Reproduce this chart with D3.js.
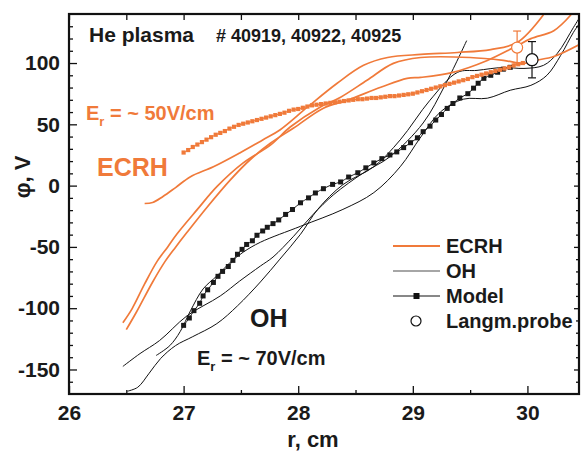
<!DOCTYPE html>
<html>
<head>
<meta charset="utf-8">
<script src="https://cdn.jsdelivr.net/npm/d3@7"></script>
<style>
    body { margin: 0; background: #fff; }
    svg text { font-family: "Liberation Sans", Arial, sans-serif; font-weight: bold; }
</style>
</head>
<body>
<svg id="chart" width="581" height="453"></svg>
<script>
"use strict";

// tick values
const xTicks = [26, 27, 28, 29, 30];
const xMinorTicks = [26.5, 27.5, 28.5, 29.5];
const yTicks = [-150, -100, -50, 0, 50, 100];
const yMinorTicks = [-160, -140, -130, -120, -110, -90, -80, -70, -60, -40, -30, -20, -10,
    10, 20, 30, 40, 60, 70, 80, 90, 110, 120, 130];

// ECRH shots [r, phi]
const ecrhA = [[26.47, -111.8], [26.55, -100.5], [26.66, -80.2], [26.77, -61.6], [26.86, -50.2],
    [26.94, -39.7], [27.12, -19.4], [27.29, -0.8], [27.52, 18.6], [27.76, 33.2], [27.93, 47.8],
    [28.19, 64.0], [28.37, 72.1], [28.60, 85.9], [28.83, 99.7], [29.07, 104.5], [29.50, 104.5],
    [29.79, 102.1], [29.97, 99.7], [30.07, 102.1], [30.23, 105.3], [30.47, 115.9]];
const ecrhB = [[26.50, -117.5], [26.59, -102.9], [26.73, -78.6], [26.84, -61.6], [26.93, -50.2],
    [27.03, -38.1], [27.21, -17.0], [27.41, 4.9], [27.58, 21.1], [27.76, 34.8], [27.96, 47.0],
    [28.22, 63.2], [28.43, 69.7], [28.72, 80.2], [28.95, 87.5], [29.07, 88.3], [29.35, 92.4],
    [29.65, 102.1], [29.88, 112.6], [30.03, 119.9], [30.23, 126.4], [30.38, 139.4]];
const ecrhC = [[26.66, -14.6], [26.73, -13.8], [26.82, -8.9], [26.93, -1.6], [27.06, 7.3],
    [27.26, 15.4], [27.49, 26.7], [27.69, 37.3], [27.84, 45.4], [28.08, 64.0], [28.34, 83.5],
    [28.57, 98.1], [28.78, 104.5], [29.07, 107.0], [29.39, 108.6], [29.68, 111.0], [29.91, 116.7],
    [30.14, 139.4]];

// OH shots [r, phi]
const ohA = [[26.47, -147.5], [26.62, -137.0], [26.79, -126.4], [27.03, -106.2], [27.32, -90.0],
    [27.49, -77.8], [27.67, -65.6], [27.78, -58.3], [27.96, -41.3], [28.13, -23.5], [28.31, -7.3],
    [28.57, 10.5], [28.80, 23.5], [29.09, 51.1], [29.28, 81.8], [29.47, 118.3]];
const ohB = [[26.76, -138.6], [26.88, -130.5], [26.97, -119.1], [27.06, -102.1], [27.17, -84.3],
    [27.29, -73.7], [27.41, -62.4], [27.52, -54.3], [27.67, -46.2], [28.02, -33.2], [28.39, -19.4],
    [28.66, -5.7], [28.89, 15.4], [29.07, 39.7], [29.24, 60.0], [29.44, 70.5], [29.65, 71.3],
    [29.85, 77.8], [30.03, 81.8], [30.17, 90.0], [30.29, 106.2], [30.40, 124.8], [30.47, 134.5]];
const ohC = [[26.51, -167.7], [26.60, -164.5], [26.70, -153.0], [26.80, -141.0], [26.93, -130.5],
    [27.08, -123.2], [27.29, -112.6], [27.47, -98.1], [27.67, -78.6], [27.84, -60.0], [28.02, -39.7],
    [28.17, -19.4], [28.39, 0.8], [28.66, 15.4], [28.89, 37.3], [29.15, 69.7], [29.39, 92.4],
    [29.56, 94.0], [29.79, 96.4], [29.97, 95.6], [30.14, 98.1], [30.26, 107.8], [30.40, 128.8],
    [30.47, 139.4]];

// model curves [r, phi]
const modelEcrh = [[27.00, 27], [27.04, 29], [27.08, 31.5], [27.12, 33.5], [27.16, 35.5], [27.20, 37.5],
    [27.24, 39.5], [27.28, 41.5], [27.32, 43], [27.36, 44.5], [27.40, 46.5], [27.44, 48], [27.48, 49.5],
    [27.52, 50.5], [27.56, 51.5], [27.60, 52.5], [27.64, 53.5], [27.68, 54.5], [27.72, 55.5],
    [27.76, 56.5], [27.80, 57.5], [27.84, 58.5], [27.88, 59.5], [27.92, 61], [27.96, 62], [28.00, 62.5],
    [28.04, 63.5], [28.08, 64.5], [28.12, 65.5], [28.16, 66], [28.20, 66.5], [28.24, 67], [28.28, 67.5],
    [28.32, 68], [28.36, 68.5], [28.40, 69], [28.44, 69.5], [28.48, 70], [28.52, 70.5], [28.56, 70.5],
    [28.60, 71], [28.64, 71.5], [28.68, 71.5], [28.72, 72], [28.76, 72.5], [28.80, 73], [28.84, 73],
    [28.88, 73.5], [28.92, 74], [28.96, 74.5], [29.00, 75], [29.04, 76], [29.08, 77], [29.12, 78],
    [29.16, 79], [29.20, 80], [29.24, 81], [29.28, 82], [29.32, 83], [29.36, 84], [29.40, 85],
    [29.44, 86], [29.48, 87], [29.52, 88.5], [29.56, 89.5], [29.60, 90.5], [29.64, 91.5], [29.68, 92.5],
    [29.72, 93.5], [29.76, 94.5], [29.80, 95.5], [29.84, 96.5], [29.88, 98], [29.92, 99], [29.96, 100]];
const modelOh = [[27.00, -114], [27.05, -108], [27.09, -102], [27.14, -96], [27.17, -90], [27.21, -85],
    [27.26, -79], [27.30, -74], [27.34, -70], [27.39, -66], [27.43, -61], [27.47, -56], [27.51, -52],
    [27.55, -48], [27.60, -45], [27.64, -40.5], [27.69, -37], [27.73, -34], [27.78, -31], [27.83, -28],
    [27.89, -23.5], [27.95, -19.5], [28.02, -14], [28.09, -10], [28.15, -6], [28.22, -2.5], [28.30, 1],
    [28.37, 3], [28.44, 7], [28.52, 10.5], [28.59, 14.5], [28.66, 18.5], [28.73, 22], [28.80, 25],
    [28.86, 27.5], [28.92, 31], [28.98, 35], [29.04, 39], [29.09, 44], [29.15, 48.5], [29.20, 53.5],
    [29.25, 58], [29.30, 63], [29.35, 67], [29.41, 71.5], [29.48, 75], [29.53, 79.5], [29.57, 83.5],
    [29.62, 87.5], [29.68, 90], [29.74, 92.5], [29.79, 95], [29.85, 96.5]];

// Langmuir probe points
const probeR = [29.91, 30.04];
const probePhi = [112.6, 102.7];
const probeErr = [13.5, 14.8];

const orange = "#f07a3a";

(function () {
    const svg = d3.select("#chart");

    const x = d3.scaleLinear().domain([26, 30.45]).range([69, 579]);
    const y = d3.scaleLinear().domain([-170, 140]).range([394, 14]);

    svg.append("clipPath").attr("id", "plot-clip")
        .append("rect")
        .attr("x", 69).attr("y", 14)
        .attr("width", 510).attr("height", 380);

    drawAxes(svg, x, y);

    const plot = svg.append("g").attr("clip-path", "url(#plot-clip)");
    const line = d3.line()
        .x(d => x(d[0]))
        .y(d => y(d[1]))
        .curve(d3.curveCatmullRom);

    // OH shots
    [ohA, ohB, ohC].forEach(s => {
        plot.append("path")
            .attr("d", line(s))
            .attr("fill", "none")
            .attr("stroke", "#111")
            .attr("stroke-width", 1);
    });

    // ECRH shots
    [ecrhA, ecrhB, ecrhC].forEach(s => {
        plot.append("path")
            .attr("d", line(s))
            .attr("fill", "none")
            .attr("stroke", orange)
            .attr("stroke-width", 1.7);
    });

    // model curves with square markers
    addModel(plot, modelOh, "#1a1a1a", 5, x, y, line);
    addModel(plot, modelEcrh, orange, 4.2, x, y, line);

    // probe points with error bars
    const colors = [orange, "#111"];
    const radius = [5.5, 6];
    probeR.forEach((r, i) => {
        const g = plot.append("g")
            .attr("stroke", colors[i])
            .attr("stroke-width", 1.2)
            .attr("fill", "none");
        const cx = x(r);
        g.append("line")
            .attr("x1", cx).attr("x2", cx)
            .attr("y1", y(probePhi[i] + probeErr[i]))
            .attr("y2", y(probePhi[i] - probeErr[i]));
        [1, -1].forEach(sgn => {
            g.append("line")
                .attr("x1", cx - 4).attr("x2", cx + 4)
                .attr("y1", y(probePhi[i] + sgn * probeErr[i]))
                .attr("y2", y(probePhi[i] + sgn * probeErr[i]));
        });
        g.append("circle")
            .attr("cx", cx).attr("cy", y(probePhi[i]))
            .attr("r", radius[i])
            .attr("fill", "#fff");
    });

    // frame
    svg.append("rect")
        .attr("x", 69).attr("y", 14)
        .attr("width", 510).attr("height", 380)
        .attr("fill", "none")
        .attr("stroke", "#111")
        .attr("stroke-width", 2.2);

    addTexts(svg);
    addLegend(svg);
})();

function addModel(g, data, color, size, x, y, line) {
    g.append("path")
        .attr("d", line(data))
        .attr("fill", "none")
        .attr("stroke", color)
        .attr("stroke-width", 1);
    g.selectAll(null)
        .data(data)
        .enter()
        .append("rect")
        .attr("x", d => x(d[0]) - size / 2)
        .attr("y", d => y(d[1]) - size / 2)
        .attr("width", size)
        .attr("height", size)
        .attr("fill", color);
}

function drawAxes(svg, x, y) {
    const style = g => {
        g.select(".domain").remove();
        g.selectAll(".tick line").attr("stroke", "#111").attr("stroke-width", 1.3);
        g.selectAll(".tick text")
            .attr("fill", "#1a1a1a")
            .style("font-size", "21px")
            .style("font-family", "'Liberation Sans', Arial, sans-serif")
            .style("font-weight", "bold");
    };
    // plain hyphen for negatives, as in the original
    const fmt = d => String(d);

    svg.append("g").attr("transform", "translate(0,394)")
        .call(d3.axisBottom(x).tickValues(xTicks).tickFormat(fmt)
            .tickSize(-8).tickPadding(11))
        .call(style);
    svg.append("g").attr("transform", "translate(0,394)")
        .call(d3.axisBottom(x).tickValues(xMinorTicks).tickFormat("").tickSize(-4))
        .call(style);
    svg.append("g").attr("transform", "translate(0,14)")
        .call(d3.axisTop(x).tickValues(xTicks.concat(xMinorTicks)).tickFormat("").tickSize(-6))
        .call(style);

    svg.append("g").attr("transform", "translate(69,0)")
        .call(d3.axisLeft(y).tickValues(yTicks).tickFormat(fmt)
            .tickSize(-8).tickPadding(9))
        .call(style);
    svg.append("g").attr("transform", "translate(69,0)")
        .call(d3.axisLeft(y).tickValues(yMinorTicks).tickFormat("").tickSize(-4))
        .call(style);
    svg.append("g").attr("transform", "translate(579,0)")
        .call(d3.axisRight(y).tickValues(yTicks).tickFormat("").tickSize(-5))
        .call(style);
    svg.append("g").attr("transform", "translate(579,0)")
        .call(d3.axisRight(y).tickValues(yMinorTicks).tickFormat("").tickSize(-3))
        .call(style);
}

function addTexts(svg) {
    const t = (px, py, txt, size, color) => svg.append("text")
        .attr("x", px).attr("y", py)
        .attr("fill", color || "#1a1a1a")
        .style("font-size", size + "px")
        .text(txt);

    t(89, 42, "He plasma", 21);
    t(216, 42, "# 40919, 40922, 40925", 18);
    t(97, 176, "ECRH", 25, orange);
    t(250, 327, "OH", 25);

    // E_r labels with subscript
    const er = (px, py, rest, color) => {
        const txt = svg.append("text")
            .attr("x", px).attr("y", py)
            .attr("fill", color)
            .style("font-size", "20px");
        txt.append("tspan").text("E");
        txt.append("tspan").attr("dy", 6).style("font-size", "13px").text("r");
        txt.append("tspan").attr("dy", -6).text(rest);
    };
    er(86, 120, " = ~ 50V/cm", orange);
    er(197, 365, " = ~ 70V/cm", "#1a1a1a");

    // axis titles
    svg.append("text")
        .attr("x", 313).attr("y", 447)
        .attr("text-anchor", "middle")
        .attr("fill", "#1a1a1a")
        .style("font-size", "22px")
        .text("r, cm");
    svg.append("text")
        .attr("transform", "translate(30,177) rotate(-90)")
        .attr("text-anchor", "middle")
        .attr("fill", "#1a1a1a")
        .style("font-size", "22px")
        .text("φ, V");
}

function addLegend(svg) {
    const rows = [
        { label: "ECRH", y: 246 },
        { label: "OH", y: 271 },
        { label: "Model", y: 296 },
        { label: "Langm.probe", y: 321 }
    ];
    const g = svg.append("g");
    rows.forEach((d, i) => {
        if (i === 0) {
            g.append("line").attr("x1", 393).attr("x2", 440).attr("y1", d.y).attr("y2", d.y)
                .attr("stroke", orange).attr("stroke-width", 2);
        } else if (i === 1) {
            g.append("line").attr("x1", 393).attr("x2", 440).attr("y1", d.y).attr("y2", d.y)
                .attr("stroke", "#888").attr("stroke-width", 1.6);
        } else if (i === 2) {
            g.append("line").attr("x1", 393).attr("x2", 440).attr("y1", d.y).attr("y2", d.y)
                .attr("stroke", "#111").attr("stroke-width", 1);
            g.append("rect").attr("x", 413.5).attr("y", d.y - 3).attr("width", 6).attr("height", 6)
                .attr("fill", "#111");
        } else {
            g.append("circle").attr("cx", 416).attr("cy", d.y).attr("r", 5)
                .attr("fill", "#fff").attr("stroke", "#111").attr("stroke-width", 1.2);
        }
        g.append("text")
            .attr("x", 446).attr("y", d.y + 7)
            .attr("fill", "#1a1a1a")
            .style("font-size", "20px")
            .text(d.label);
    });
}
</script>
</body>
</html>
